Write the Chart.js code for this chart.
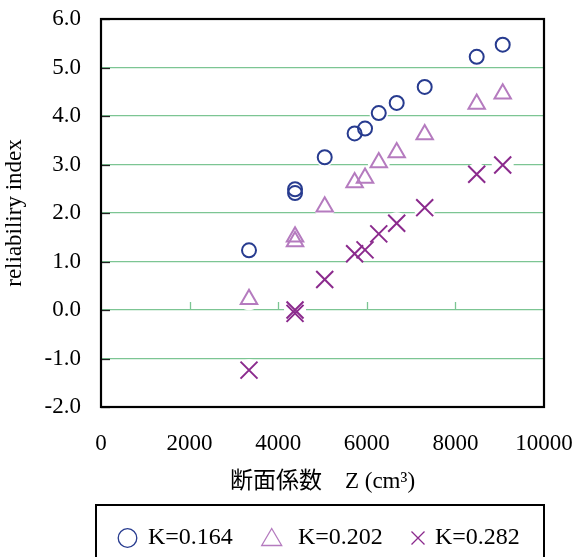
<!DOCTYPE html>
<html><head><meta charset="utf-8">
<script src="https://cdn.jsdelivr.net/npm/chart.js@4.4.1/dist/chart.umd.min.js"></script>
<style>html,body{margin:0;padding:0;background:#fff;} #wrap{width:574px;height:557px;position:relative;}</style>
</head><body><div id="wrap"><canvas id="c" width="574" height="557"></canvas></div>
<script>
const sectionModulus = [3341, 4380, 4380, 5050, 5725, 5960, 6270, 6675, 7307, 8481, 9068];
const betaK0164 = [1.23, 2.49, 2.41, 3.15, 3.64, 3.74, 4.06, 4.27, 4.60, 5.22, 5.47];
const betaK0202 = [0.22, 1.51, 1.41, 2.13, 2.63, 2.72, 3.04, 3.25, 3.62, 4.25, 4.46];
const betaK0282 = [-1.24, 0.00, -0.07, 0.63, 1.16, 1.24, 1.57, 1.79, 2.11, 2.80, 2.99];
const seriesLabels = ['K=0.164', 'K=0.202', 'K=0.282'];
const xTicks = [0, 2000, 4000, 6000, 8000, 10000];
const yTicks = [-2, -1, 0, 1, 2, 3, 4, 5, 6];
const xTitle = '断面係数　Z (cm³)';
const yTitle = 'reliabiliry index';

const SERIF = "'Liberation Serif', 'Times New Roman', serif";
const GREEN = '#7cc593';
const C_CIRCLE = '#273b8f';
const C_TRI = '#b57bbf';
const C_CROSS = '#8b2a8d';

function pts(vals) { return sectionModulus.map((x, i) => ({ x: x, y: vals[i] })); }

const haloR = [9.5, 11, 11];

const decor = {
  id: 'decor',
  beforeDatasetsDraw(chart) {
    const { ctx, chartArea: a, scales: { x, y } } = chart;
    ctx.save();
    const y0 = Math.round(y.getPixelForValue(0));
    ctx.strokeStyle = GREEN; ctx.lineWidth = 1.3;
    xTicks.forEach(v => {
      if (v > x.min && v < x.max) {
        const px = Math.round(x.getPixelForValue(v)) + 0.5;
        ctx.beginPath(); ctx.moveTo(px, y0); ctx.lineTo(px, y0 - 8); ctx.stroke();
      }
    });
    ctx.strokeStyle = '#222'; ctx.lineWidth = 1.3;
    yTicks.forEach(v => {
      const py = Math.round(y.getPixelForValue(v)) + 0.5;
      ctx.beginPath(); ctx.moveTo(a.left, py); ctx.lineTo(a.left + 9, py); ctx.stroke();
    });
    ctx.fillStyle = '#fff';
    chart.data.datasets.forEach((ds, i) => {
      const meta = chart.getDatasetMeta(i);
      meta.data.forEach(p => { ctx.beginPath(); ctx.arc(p.x, p.y, haloR[i], 0, Math.PI * 2); ctx.fill(); });
    });
    ctx.strokeStyle = '#000'; ctx.lineWidth = 2.2;
    ctx.strokeRect(a.left, a.top, a.right - a.left, a.bottom - a.top);
    ctx.restore();
  },
  afterDraw(chart) {
    const ctx = chart.ctx;
    ctx.save();
    ctx.strokeStyle = '#000'; ctx.lineWidth = 2;
    ctx.strokeRect(96, 505, 448, 60);
    const cy = 538;
    ctx.lineWidth = 1.3;
    ctx.strokeStyle = C_CIRCLE;
    ctx.beginPath(); ctx.arc(127.5, cy, 9.3, 0, Math.PI * 2); ctx.stroke();
    ctx.strokeStyle = C_TRI;
    ctx.beginPath(); ctx.moveTo(271.7, cy - 9.5); ctx.lineTo(281.7, cy + 7.5); ctx.lineTo(261.7, cy + 7.5); ctx.closePath(); ctx.stroke();
    ctx.strokeStyle = C_CROSS;
    ctx.beginPath(); ctx.moveTo(411.5, cy - 6.5); ctx.lineTo(424.5, cy + 6.5); ctx.moveTo(424.5, cy - 6.5); ctx.lineTo(411.5, cy + 6.5); ctx.stroke();
    ctx.fillStyle = '#000';
    ctx.font = '24px ' + SERIF;
    ctx.textBaseline = 'middle'; ctx.textAlign = 'left';
    const tx = [148, 298, 435];
    chart.data.datasets.forEach((ds, i) => ctx.fillText(ds.label, tx[i], cy));
    ctx.restore();
  }
};

new Chart(document.getElementById('c'), {
  type: 'scatter',
  data: {
    datasets: [
      { label: seriesLabels[0], data: pts(betaK0164), pointStyle: 'circle', pointRadius: 7, pointBorderWidth: 2, borderColor: C_CIRCLE, backgroundColor: 'rgba(0,0,0,0)' },
      { label: seriesLabels[1], data: pts(betaK0202), pointStyle: 'triangle', pointRadius: 9.5, pointBorderWidth: 2, borderColor: C_TRI, backgroundColor: 'rgba(0,0,0,0)' },
      { label: seriesLabels[2], data: pts(betaK0282), pointStyle: 'crossRot', pointRadius: 12, pointBorderWidth: 2, borderColor: C_CROSS, backgroundColor: 'rgba(0,0,0,0)' }
    ]
  },
  options: {
    responsive: false,
    animation: false,
    devicePixelRatio: 1,
    layout: { padding: { left: 0, right: 30, top: 19, bottom: 57 } },
    plugins: { legend: { display: false }, tooltip: { enabled: false } },
    scales: {
      x: {
        type: 'linear', min: 0, max: 10000,
        afterBuildTicks: s => { s.ticks = xTicks.map(v => ({ value: v })); },
        afterFit: s => { s.height = 93; s.paddingLeft = 0; s.paddingRight = 0; },
        grid: { display: false, drawTicks: false },
        border: { display: false },
        ticks: { color: '#000', padding: 23, maxRotation: 0, font: { family: SERIF, size: 23 }, callback: v => String(v) },
        title: { display: true, text: xTitle, color: '#000', padding: { top: 0, bottom: 4 }, font: { family: "'Liberation Serif', 'Noto Sans CJK JP', serif", size: 23 } }
      },
      y: {
        type: 'linear', min: -2, max: 6,
        afterBuildTicks: s => { s.ticks = yTicks.map(v => ({ value: v })); },
        afterFit: s => { s.width = 101; s.paddingTop = 0; s.paddingBottom = 0; },
        grid: { drawTicks: false, lineWidth: 1.3, color: c => (c.tick && (c.tick.value === 6 || c.tick.value === -2)) ? 'rgba(0,0,0,0)' : GREEN },
        border: { display: false },
        ticks: { color: '#000', padding: 20, font: { family: SERIF, size: 23 }, callback: v => Number(v).toFixed(1) },
        title: { display: true, text: yTitle, color: '#000', padding: { top: 1, bottom: 0 }, font: { family: SERIF, size: 23 } }
      }
    }
  },
  plugins: [decor]
});
</script>
</body></html>
